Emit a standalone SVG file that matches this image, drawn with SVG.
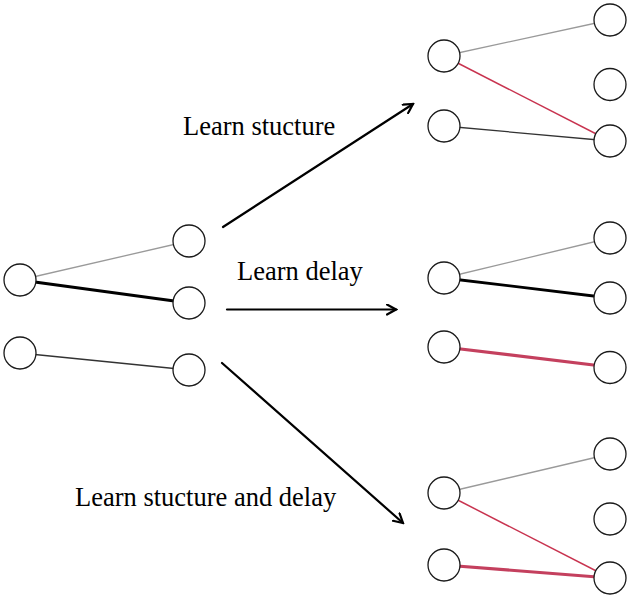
<svg xmlns="http://www.w3.org/2000/svg" width="631" height="599" viewBox="0 0 631 599">
<style>
.node{fill:#fff;stroke:#1a1a1a;stroke-width:1.3}
.lbl{font-family:"Liberation Serif","Times New Roman","DejaVu Serif",serif;font-size:26.5px;fill:#000}
.gray{stroke:#9a9a9a;stroke-width:1.3}
.dark{stroke:#333;stroke-width:1.3}
.thick{stroke:#000;stroke-width:2.8}
.red{stroke:#c8334f;stroke-width:1.5}
.redthick{stroke:#c4405e;stroke-width:3.2}
.arrow{stroke:#000;stroke-width:2.2;fill:none;stroke-linecap:round}
</style>
<defs>
<marker id="ah" viewBox="0 0 12 12" refX="10" refY="6" markerWidth="12" markerHeight="12" markerUnits="userSpaceOnUse" orient="auto">
<path d="M1,1 L10,6 L1,11" fill="none" stroke="#000" stroke-width="2.2" stroke-linecap="round" stroke-linejoin="miter"/>
</marker>
</defs>
<rect width="631" height="599" fill="#fff"/>
<g id="connectors">
<line class="gray" x1="20" y1="280" x2="189" y2="241"/>
<line class="thick" x1="20" y1="280" x2="189" y2="303"/>
<line class="dark" x1="20" y1="353" x2="189" y2="370"/>
<line class="gray" x1="444" y1="56" x2="610" y2="20"/>
<line class="red" x1="444" y1="56" x2="610" y2="141"/>
<line class="dark" x1="444" y1="126" x2="610" y2="141"/>
<line class="gray" x1="444" y1="278" x2="610" y2="238"/>
<line class="thick" x1="444" y1="278" x2="610" y2="298"/>
<line class="redthick" x1="444" y1="347" x2="610" y2="367"/>
<line class="gray" x1="444" y1="493" x2="610" y2="454"/>
<line class="red" x1="444" y1="493" x2="610" y2="578"/>
<line class="redthick" x1="444" y1="565" x2="610" y2="578"/>
<line class="arrow" x1="223" y1="227" x2="413" y2="104" marker-end="url(#ah)"/>
<line class="arrow" x1="227" y1="309.5" x2="396" y2="309.5" marker-end="url(#ah)"/>
<line class="arrow" x1="222" y1="363" x2="403" y2="523" marker-end="url(#ah)"/>
</g>
<g id="n-l1"><circle class="node" cx="20" cy="280" r="16"/></g>
<g id="n-l2"><circle class="node" cx="20" cy="353" r="16"/></g>
<g id="n-r1"><circle class="node" cx="189" cy="241" r="16"/></g>
<g id="n-r2"><circle class="node" cx="189" cy="303" r="16"/></g>
<g id="n-r3"><circle class="node" cx="189" cy="370" r="16"/></g>
<g id="n-t1"><circle class="node" cx="444" cy="56" r="16"/></g>
<g id="n-t2"><circle class="node" cx="444" cy="126" r="16"/></g>
<g id="n-tr1"><circle class="node" cx="610" cy="20" r="16"/></g>
<g id="n-tr2"><circle class="node" cx="610" cy="84.5" r="16"/></g>
<g id="n-tr3"><circle class="node" cx="610" cy="141" r="16"/></g>
<g id="n-m1"><circle class="node" cx="444" cy="278" r="16"/></g>
<g id="n-m2"><circle class="node" cx="444" cy="347" r="16"/></g>
<g id="n-mr1"><circle class="node" cx="610" cy="238" r="16"/></g>
<g id="n-mr2"><circle class="node" cx="610" cy="298" r="16"/></g>
<g id="n-mr3"><circle class="node" cx="610" cy="367.5" r="16"/></g>
<g id="n-b1"><circle class="node" cx="444" cy="493" r="16"/></g>
<g id="n-b2"><circle class="node" cx="444" cy="565" r="16"/></g>
<g id="n-br1"><circle class="node" cx="610" cy="454" r="16"/></g>
<g id="n-br2"><circle class="node" cx="610" cy="519" r="16"/></g>
<g id="n-br3"><circle class="node" cx="610" cy="578" r="16"/></g>
<g id="labels">
<text class="lbl" x="183" y="135">Learn stucture</text>
<text class="lbl" x="237" y="280">Learn delay</text>
<text class="lbl" x="75" y="506">Learn stucture and delay</text>
</g>
</svg>
